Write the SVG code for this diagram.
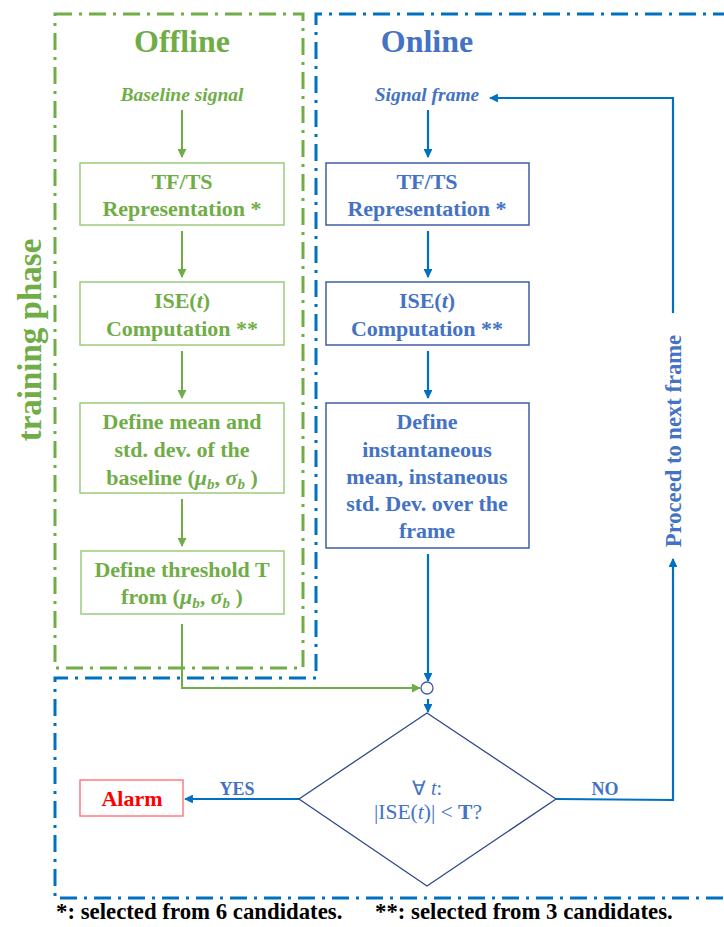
<svg xmlns="http://www.w3.org/2000/svg" width="724" height="927" viewBox="0 0 724 927">
<defs>
<style>
.t{font-family:'Liberation Serif', serif;font-weight:bold;text-anchor:middle}
.g{fill:#70AD47}
.b{fill:#4472C4}
.gbox{fill:#fff;stroke:#9BCB7C;stroke-width:1.5}
.bbox{fill:#fff;stroke:#3F5DA6;stroke-width:1.5}
.bt{font-size:22px}
.garr{stroke:#70AD47;stroke-width:2;fill:none}
.barr{stroke:#0070C0;stroke-width:2.2;fill:none}
.dd{fill:none;stroke-width:3;stroke-dasharray:17 7 3 7}
</style>
<marker id="ag" viewBox="0 0 10 10" refX="9" refY="5" markerWidth="4.5" markerHeight="4.5" orient="auto"><path d="M0,0 L10,5 L0,10 z" fill="#70AD47"/></marker>
<marker id="ab" viewBox="0 0 10 10" refX="9" refY="5" markerWidth="4" markerHeight="4" orient="auto"><path d="M0,0 L10,5 L0,10 z" fill="#0070C0"/></marker>
</defs>
<rect width="724" height="927" fill="#fff"/>

<g id="borders">
<rect x="55" y="14" width="248" height="654" class="dd" stroke="#70AD47"/>
<path d="M730,14 L316,14 L316,678 L55,678 L55,898 L730,898" class="dd" stroke="#0070C0"/>
</g>

<g id="titles">
<text x="182" y="52" class="t g" font-size="32">Offline</text>
<text x="427" y="52" class="t b" font-size="32">Online</text>
<text transform="translate(41,340) rotate(-90)" class="t g" font-size="33">training phase</text>
</g>

<g id="connectors">
<line x1="182" y1="110" x2="182" y2="157" class="garr" marker-end="url(#ag)"/>
<line x1="182" y1="231" x2="182" y2="277" class="garr" marker-end="url(#ag)"/>
<line x1="182" y1="351" x2="182" y2="398" class="garr" marker-end="url(#ag)"/>
<line x1="182" y1="499" x2="182" y2="546" class="garr" marker-end="url(#ag)"/>
<path d="M182,624 L182,688 L420,688" class="garr" marker-end="url(#ag)"/>
<line x1="428" y1="110" x2="428" y2="157" class="barr" marker-end="url(#ab)"/>
<line x1="428" y1="231" x2="428" y2="277" class="barr" marker-end="url(#ab)"/>
<line x1="428" y1="351" x2="428" y2="398" class="barr" marker-end="url(#ab)"/>
<line x1="428" y1="554" x2="428" y2="681" class="barr" marker-end="url(#ab)"/>
<line x1="428" y1="699" x2="428" y2="712" class="barr" marker-end="url(#ab)"/>
<line x1="299" y1="799" x2="185" y2="799" class="barr" marker-end="url(#ab)"/>
<path d="M556,799 L673,800 L673,559" class="barr" marker-end="url(#ab)"/>
<path d="M673,313 L673,98 L490,98" class="barr" marker-end="url(#ab)"/>
<text x="237" y="795" class="t b" font-size="18">YES</text>
<text x="605" y="795" class="t b" font-size="18">NO</text>
<text transform="translate(681,441) rotate(-90)" class="t b" font-size="22.6">Proceed to next frame</text>
</g>

<g id="baseline-signal"><text x="182" y="101" class="t g" font-size="19.5" font-style="italic">Baseline signal</text></g>
<g id="signal-frame"><text x="427" y="101" class="t b" font-size="19.5" font-style="italic">Signal frame</text></g>

<g id="off-tfts">
<rect x="80" y="163" width="204" height="62" class="gbox"/>
<text x="182" y="189" class="t g bt">TF/TS</text>
<text x="182" y="216" class="t g bt">Representation *</text>
</g>
<g id="off-ise">
<rect x="80" y="282" width="204" height="63" class="gbox"/>
<text x="182" y="308" class="t g bt">ISE(<tspan font-style="italic">t</tspan>)</text>
<text x="182" y="336" class="t g bt">Computation **</text>
</g>
<g id="off-mean">
<rect x="80" y="403" width="204" height="90" class="gbox"/>
<text x="182" y="429" class="t g bt">Define mean and</text>
<text x="182" y="457" class="t g bt">std. dev. of the</text>
<text x="182" y="485" class="t g bt">baseline (<tspan font-style="italic">μ</tspan><tspan font-style="italic" font-size="15" dy="4">b</tspan><tspan dy="-4">, </tspan><tspan font-style="italic">σ</tspan><tspan font-style="italic" font-size="15" dy="4">b</tspan><tspan dy="-4">  )</tspan></text>
</g>
<g id="off-threshold">
<rect x="81" y="551" width="203" height="63" class="gbox"/>
<text x="182" y="577" class="t g bt">Define threshold T</text>
<text x="182" y="604" class="t g bt">from (<tspan font-style="italic">μ</tspan><tspan font-style="italic" font-size="15" dy="4">b</tspan><tspan dy="-4">, </tspan><tspan font-style="italic">σ</tspan><tspan font-style="italic" font-size="15" dy="4">b</tspan><tspan dy="-4">  )</tspan></text>
</g>

<g id="on-tfts">
<rect x="326" y="163" width="203" height="62" class="bbox"/>
<text x="427" y="189" class="t b bt">TF/TS</text>
<text x="427" y="216" class="t b bt">Representation *</text>
</g>
<g id="on-ise">
<rect x="326" y="282" width="203" height="63" class="bbox"/>
<text x="427" y="308" class="t b bt">ISE(<tspan font-style="italic">t</tspan>)</text>
<text x="427" y="336" class="t b bt">Computation **</text>
</g>
<g id="on-inst">
<rect x="326" y="403" width="203" height="145" class="bbox"/>
<text x="427" y="429" class="t b bt">Define</text>
<text x="427" y="457" class="t b bt">instantaneous</text>
<text x="427" y="484" class="t b bt">mean, instaneous</text>
<text x="427" y="511" class="t b bt">std. Dev. over the</text>
<text x="427" y="538" class="t b bt">frame</text>
</g>

<g id="junction"><circle cx="427" cy="688" r="6" fill="#fff" stroke="#3F5DA6" stroke-width="1.3"/></g>

<g id="decision">
<polygon points="427,713 556,799 427,886 299,799" fill="#fff" stroke="#2F4A8A" stroke-width="1.3"/>
<text x="427" y="795" class="t b" font-size="20" style="font-weight:normal">∀ <tspan font-style="italic">t</tspan>:</text>
<text x="428" y="819" class="t b" font-size="21.5" style="font-weight:normal">|ISE(<tspan font-style="italic">t</tspan>)| &lt; <tspan style="font-weight:bold">T</tspan>?</text>
</g>

<g id="alarm">
<rect x="80" y="780" width="103" height="36" fill="#fff" stroke="#FF7C80" stroke-width="1.5"/>
<text x="132" y="806" class="t" fill="#FF0000" font-size="22">Alarm</text>
</g>

<g id="notes">
<text x="56" y="919" class="t" font-size="22.8" fill="#000" style="text-anchor:start">*: selected from 6 candidates.</text>
<text x="375" y="919" class="t" font-size="22.8" fill="#000" style="text-anchor:start">**: selected from 3 candidates.</text>
</g>
</svg>
